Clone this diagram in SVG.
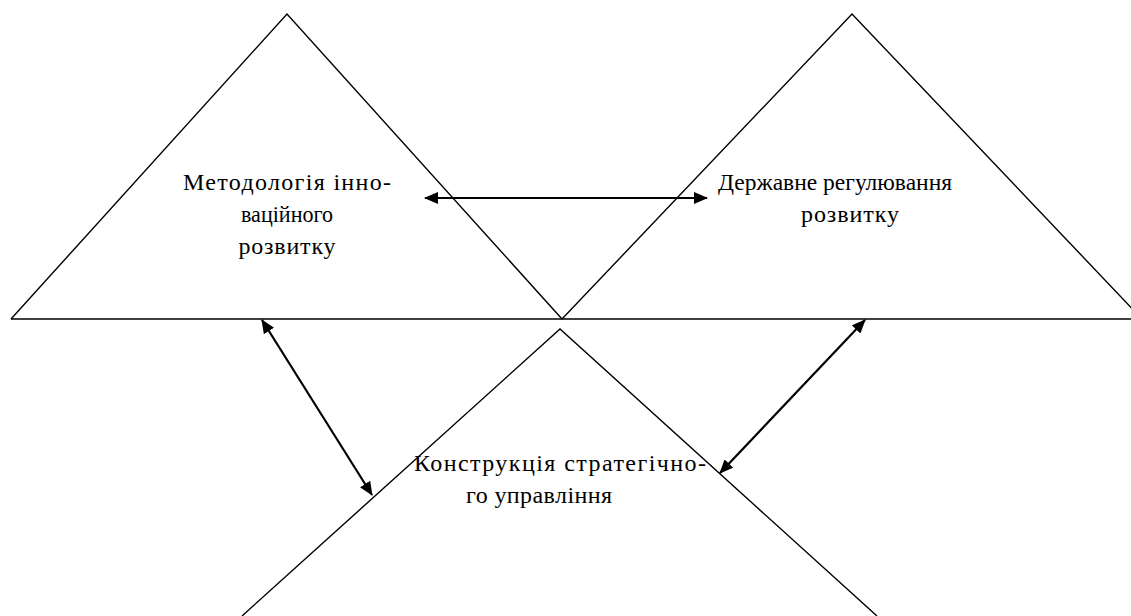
<svg xmlns="http://www.w3.org/2000/svg" width="1131" height="616" viewBox="0 0 1131 616">
<style>
.tri{fill:none;stroke:#000;stroke-width:1.4}
.arr{fill:none;stroke:#000;stroke-width:2.2;marker-start:url(#ah);marker-end:url(#ah)}
text{font-family:"Liberation Serif","Times New Roman",serif;font-size:24px;fill:#000;text-anchor:middle}
</style>
<defs>
<marker id="ah" viewBox="0 0 14 12" refX="13" refY="6" markerWidth="14" markerHeight="12" markerUnits="userSpaceOnUse" orient="auto-start-reverse">
<path d="M0,0 L14,6 L0,12 Z" fill="#000"/>
</marker>
</defs>
<rect width="1131" height="616" fill="#fff"/>
<g id="node-left">
<polyline class="tri" points="11,319 287,14 562,319"/>
<text x="287" y="190" textLength="208" lengthAdjust="spacing">Методологія інно-</text>
<text x="287" y="222" textLength="92" lengthAdjust="spacingAndGlyphs">ваційного</text>
<text x="287" y="254" textLength="97" lengthAdjust="spacing">розвитку</text>
</g>
<g id="node-right">
<polyline class="tri" points="562,319 852,14 1142,319"/>
<text x="835" y="190" textLength="234" lengthAdjust="spacingAndGlyphs">Державне регулювання</text>
<text x="850" y="222" textLength="98" lengthAdjust="spacing">розвитку</text>
</g>
<g id="node-bottom">
<polyline class="tri" points="242,616 560,329 877,616"/>
<text x="560" y="471" textLength="292" lengthAdjust="spacing">Конструкція стратегічно-</text>
<text x="539" y="503" textLength="146" lengthAdjust="spacing">го управління</text>
</g>
<g id="baseline">
<line class="tri" x1="11" y1="319" x2="1131" y2="319"/>
</g>
<g id="connectors">
<line class="arr" x1="425" y1="198" x2="707" y2="198"/>
<line class="arr" x1="262" y1="320" x2="372" y2="495"/>
<line class="arr" x1="865" y1="320" x2="720" y2="473"/>
</g>
</svg>
